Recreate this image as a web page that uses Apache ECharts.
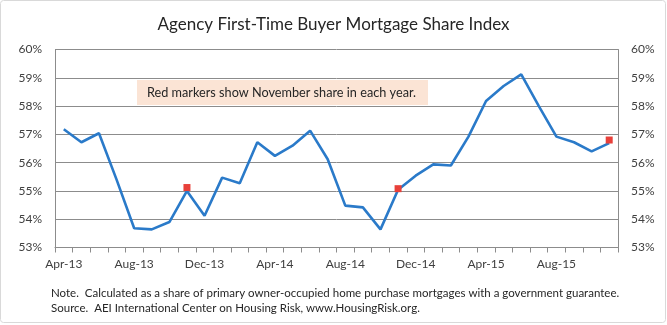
<!DOCTYPE html>
<html>
<head>
<meta charset="utf-8">
<script src="https://cdn.jsdelivr.net/npm/echarts@6/dist/echarts.min.js"></script>
<style>html,body{margin:0;padding:0;background:#fff;}#c{width:667px;height:325px;}</style>
</head>
<body>
<div id="c"></div>
<script>
var categories = ['Apr-13','May-13','Jun-13','Jul-13','Aug-13','Sep-13','Oct-13','Nov-13','Dec-13','Jan-14','Feb-14','Mar-14',
  'Apr-14','May-14','Jun-14','Jul-14','Aug-14','Sep-14','Oct-14','Nov-14','Dec-14','Jan-15','Feb-15','Mar-15',
  'Apr-15','May-15','Jun-15','Jul-15','Aug-15','Sep-15','Oct-15','Nov-15'];
var shareValues = [57.18, 56.72, 57.04, 55.4, 53.68, 53.64, 53.9, 55.0, 54.12, 55.47, 55.27, 56.72,
  56.24, 56.6, 57.13, 56.12, 54.48, 54.42, 53.64, 55.04, 55.54, 55.94, 55.9, 56.92,
  58.18, 58.71, 59.12, 58.0, 56.92, 56.72, 56.4, 56.69];
var novemberValues = [null,null,null,null,null,null,null,55.12,null,null,null,null,
  null,null,null,null,null,null,null,55.08,null,null,null,null,
  null,null,null,null,null,null,null,56.8];
var yTicks = {min: 53, max: 60, interval: 1};
var titleText = 'Agency First-Time Buyer Mortgage Share Index';
var noteText = 'Red markers show November share in each year.';
var footnote1 = 'Note.  Calculated as a share of primary owner-occupied home purchase mortgages with a government guarantee.';
var footnote2 = 'Source.  AEI International Center on Housing Risk, www.HousingRisk.org.';

var FONT = 'Lato';
var chart = echarts.init(document.getElementById('c'), null, {renderer: 'canvas'});
function yAxis(pos) {
  return {
    type: 'value', position: pos, min: yTicks.min, max: yTicks.max, interval: yTicks.interval,
    axisLine: {show: true, lineStyle: {color: '#8C8C8C', width: 1}},
    axisTick: {show: false},
    splitLine: {show: pos === 'left', lineStyle: {color: '#8C8C8C', width: 1}},
    axisLabel: {formatter: '{value}%', color: '#404040', fontFamily: FONT, fontSize: 12, margin: 13}
  };
}
chart.setOption({
  animation: false,
  title: {text: titleText, left: 'center', top: 11, textStyle: {fontFamily: FONT, fontSize: 17, fontWeight: 'normal', color: '#262626'}},
  grid: {left: 55, right: 49, top: 49.5, bottom: 77.5},
  xAxis: {
    type: 'category', data: categories, boundaryGap: true,
    axisLine: {lineStyle: {color: '#8C8C8C', width: 1}},
    axisTick: {show: true, interval: 0, length: 5, lineStyle: {color: '#8C8C8C'}},
    axisLabel: {interval: 3, color: '#404040', fontFamily: FONT, fontSize: 12, margin: 11}
  },
  yAxis: [yAxis('left'), yAxis('right')],
  series: [
    {type: 'line', data: shareValues, symbol: 'none', lineStyle: {color: '#2A7AC9', width: 2.6}, z: 2},
    {type: 'scatter', data: novemberValues, symbol: 'rect', symbolSize: 7, itemStyle: {color: '#E8403A', opacity: 1}, z: 3}
  ],
  graphic: [
    {type: 'rect', shape: {x: 0.5, y: 0.5, width: 665, height: 322, r: 3}, style: {fill: 'none', stroke: '#D9D9D9', lineWidth: 1}, z: -1},
    {type: 'rect', shape: {x: 137, y: 80, width: 291, height: 25}, style: {fill: '#FBE4D5'}, z: 1},
    {type: 'text', x: 147, y: 92.5, style: {text: noteText, fontFamily: FONT, fontSize: 12.7, fill: '#262626', verticalAlign: 'middle'}, z: 5},
    {type: 'text', x: 51, y: 293, style: {text: footnote1, fontFamily: FONT, fontSize: 11.5, fill: '#262626', verticalAlign: 'middle'}},
    {type: 'text', x: 51, y: 308, style: {text: footnote2, fontFamily: FONT, fontSize: 11.5, fill: '#262626', verticalAlign: 'middle'}}
  ]
});
</script>
</body>
</html>
